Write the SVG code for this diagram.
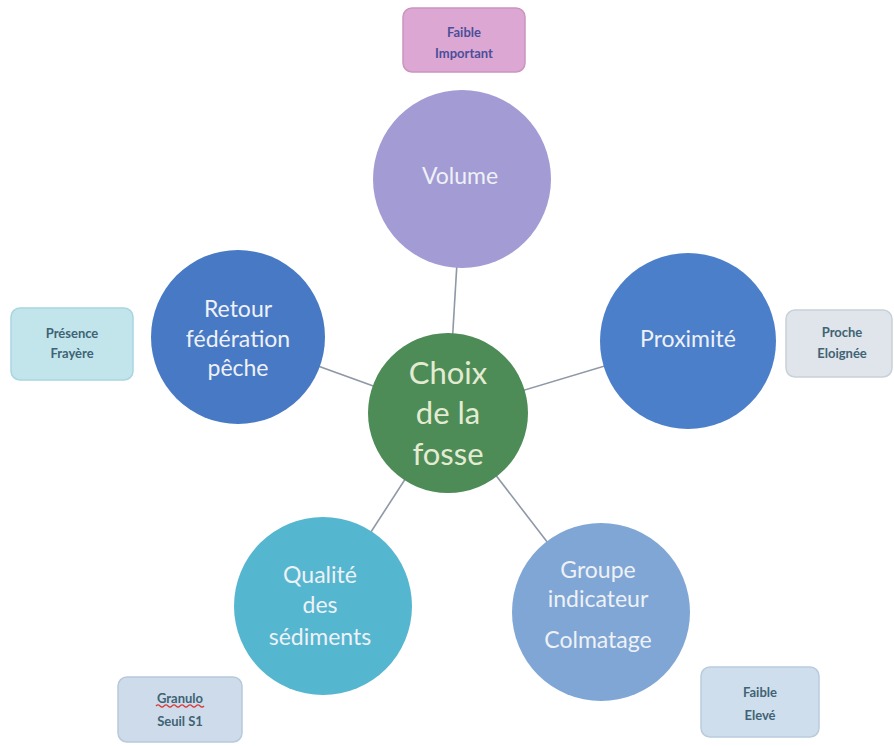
<svg xmlns="http://www.w3.org/2000/svg" width="894" height="746" viewBox="0 0 894 746">
<style>
.lbl{font-family:Lato,"Open Sans","Liberation Sans",sans-serif;font-size:23px;fill:#eef1f7;text-anchor:middle}
.ctr{font-family:Lato,"Open Sans","Liberation Sans",sans-serif;font-size:31px;fill:#e3ecd2;text-anchor:middle}
.box{stroke-width:1.5}
.bt{font-family:Lato,"Liberation Sans",sans-serif;font-size:13px;font-weight:bold;fill:#3f6374;text-anchor:middle}
.conn line{stroke:#8e98a6;stroke-width:1.6}
</style>
<rect width="894" height="746" fill="#ffffff"/>
<g class="conn" id="connectors">
<line x1="448" y1="413" x2="462" y2="179"/>
<line x1="448" y1="413" x2="688" y2="341"/>
<line x1="448" y1="413" x2="601" y2="612"/>
<line x1="448" y1="413" x2="323" y2="606"/>
<line x1="448" y1="413" x2="238" y2="337"/>
</g>
<g id="center">
<circle cx="448" cy="413" r="80" fill="#4d8b57"/>
<text class="ctr" x="448" y="384">Choix</text>
<text class="ctr" x="448" y="424">de la</text>
<text class="ctr" x="448" y="465">fosse</text>
</g>
<g id="volume">
<circle cx="462" cy="179" r="89" fill="#a39bd3"/>
<text class="lbl" x="460" y="184">Volume</text>
</g>
<g id="proximite">
<circle cx="688" cy="341" r="88" fill="#4b7fca"/>
<text class="lbl" x="688" y="347">Proximité</text>
</g>
<g id="groupe">
<circle cx="601" cy="612" r="89" fill="#7fa6d4"/>
<text class="lbl" x="598" y="578">Groupe</text>
<text class="lbl" x="598" y="607">indicateur</text>
<text class="lbl" x="598" y="648">Colmatage</text>
</g>
<g id="qualite">
<circle cx="323" cy="606" r="89" fill="#55b6cf"/>
<text class="lbl" x="320" y="583">Qualité</text>
<text class="lbl" x="320" y="613">des</text>
<text class="lbl" x="320" y="645">sédiments</text>
</g>
<g id="retour">
<circle cx="238" cy="337" r="87" fill="#4879c5"/>
<text class="lbl" x="238" y="317">Retour</text>
<text class="lbl" x="238" y="347">fédération</text>
<text class="lbl" x="238" y="376">pêche</text>
</g>
<g id="box-volume">
<rect class="box" x="403" y="8" width="122" height="64" rx="9" fill="#dca7d2" stroke="#c995c0"/>
<text class="bt" x="464" y="37" style="fill:#4b4f9a">Faible</text>
<text class="bt" x="464" y="58" style="fill:#4b4f9a">Important</text>
</g>
<g id="box-retour">
<rect class="box" x="11" y="308" width="122" height="72" rx="9" fill="#c2e5ec" stroke="#a9d5df"/>
<text class="bt" x="72" y="338">Présence</text>
<text class="bt" x="72" y="358">Frayère</text>
</g>
<g id="box-proximite">
<rect class="box" x="786" y="310" width="106" height="67" rx="9" fill="#dfe5ea" stroke="#c9d1d8"/>
<text class="bt" x="842" y="337">Proche</text>
<text class="bt" x="842" y="358">Eloignée</text>
</g>
<g id="box-qualite">
<rect class="box" x="118" y="677" width="124" height="65" rx="9" fill="#cddbea" stroke="#b8c9db"/>
<text class="bt" x="180" y="703">Granulo</text>
<path d="M156 706 q2 -2 4 0 t4 0 t4 0 t4 0 t4 0 t4 0 t4 0 t4 0 t4 0 t4 0 t4 0 t4 0" fill="none" stroke="#d83a3a" stroke-width="1.2"/>
<text class="bt" x="180" y="726">Seuil S1</text>
</g>
<g id="box-groupe">
<rect class="box" x="701" y="667" width="118" height="70" rx="9" fill="#cfdeec" stroke="#b9cbdd"/>
<text class="bt" x="760" y="697">Faible</text>
<text class="bt" x="760" y="720">Elevé</text>
</g>
</svg>
